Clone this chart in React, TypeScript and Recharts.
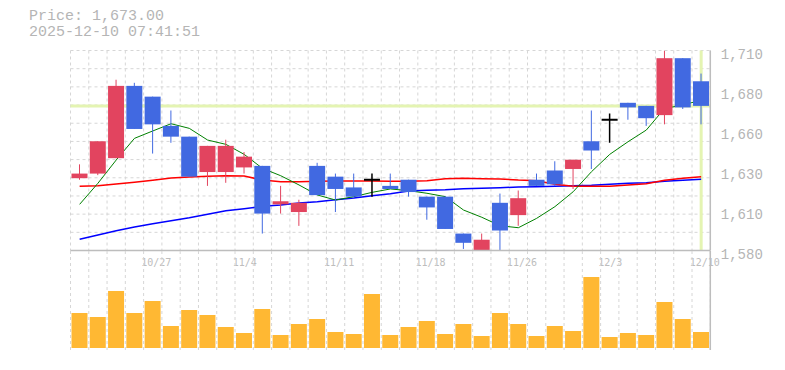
import React from 'react';
import {
    ComposedChart,
    Bar,
    Line,
    XAxis,
    YAxis,
    CartesianGrid,
    ReferenceLine,
} from 'recharts';

// --- Data ---
const dates = [
    '10/21', '10/22', '10/23', '10/24', '10/27', '10/28', '10/29', '10/30', '10/31',
    '11/4', '11/5', '11/6', '11/7', '11/10', '11/11', '11/12', '11/13', '11/14',
    '11/17', '11/18', '11/19', '11/20', '11/21', '11/25', '11/26', '11/27', '11/28',
    '12/1', '12/2', '12/3', '12/4', '12/5', '12/8', '12/9', '12/10',
];
const opens = [
    1626, 1629, 1639, 1686, 1679, 1660, 1653, 1630, 1630,
    1633, 1634, 1609, 1604, 1634, 1627, 1620, 1625, 1621,
    1625, 1614, 1614, 1590, 1579, 1610, 1602, 1625, 1631,
    1632, 1650, 1664, 1675, 1673, 1667, 1704, 1689,
];
const highs = [
    1635, 1650, 1690, 1688, 1679, 1670, 1653, 1647, 1651,
    1643, 1634, 1621, 1612, 1636, 1629, 1629, 1629, 1629,
    1625, 1614, 1614, 1590, 1590, 1616, 1618, 1629, 1637,
    1638, 1670, 1668, 1675, 1673, 1709, 1704, 1694,
];
const lows = [
    1625, 1628, 1639, 1658, 1642, 1649, 1627, 1621, 1623,
    1629, 1590, 1603, 1595, 1615, 1604, 1614, 1614, 1619,
    1614, 1599, 1593, 1580, 1579, 1579, 1595, 1621, 1621,
    1619, 1632, 1649, 1664, 1660, 1661, 1671, 1661,
];
const closes = [
    1629, 1650, 1686, 1658, 1661, 1653, 1627, 1647, 1647,
    1640, 1603, 1611, 1610, 1615, 1619, 1614, 1625, 1619,
    1617, 1607, 1593, 1584, 1586, 1592, 1613, 1621, 1622,
    1638, 1644, 1664, 1672, 1665, 1704, 1672, 1673,
];
const volumes = [
    10500, 9300, 17100, 10500, 14100, 6600, 11400, 9900, 6300,
    4500, 11700, 3900, 7200, 8700, 4800, 4200, 16200, 3900,
    6300, 8100, 4200, 7200, 3600, 10500, 7200, 3600, 6600,
    5100, 21300, 3300, 4500, 3900, 13800, 8700, 4800,
];
const ma5 = [
    1609.0, 1622.7, 1637.8, 1651.9, 1656.7, 1661.4, 1658.4, 1650.8, 1648.0,
    1641.5, 1632.4, 1627.6, 1621.6, 1615.1, 1611.8, 1614.0, 1616.8, 1619.0,
    1617.9, 1616.2, 1614.0, 1605.3, 1600.6, 1595.1, 1593.8, 1599.9, 1607.5,
    1617.2, 1630.2, 1641.5, 1649.7, 1657.3, 1671.4, 1673.5, 1676.8,
];
const ma25 = [
    1620.7, 1621.1, 1622.2, 1623.3, 1624.6, 1626.1, 1626.8, 1627.2, 1627.6,
    1627.4, 1624.8, 1623.7, 1623.7, 1624.0, 1624.2, 1624.2, 1624.2, 1624.0,
    1624.0, 1624.4, 1625.7, 1625.9, 1625.7, 1625.5, 1624.8, 1624.4, 1622.0,
    1620.7, 1620.7, 1620.7, 1621.6, 1622.4, 1624.6, 1625.9, 1627.0,
];
const ma75 = [
    1586.3, 1589.1, 1591.9, 1594.3, 1596.4, 1598.4, 1600.3, 1602.5, 1604.9,
    1606.2, 1607.7, 1608.6, 1609.9, 1610.7, 1612.0, 1613.1, 1614.6, 1615.9,
    1617.7, 1618.1, 1618.5, 1619.2, 1619.4, 1619.8, 1620.3, 1620.5, 1620.7,
    1621.1, 1621.4, 1622.0, 1622.7, 1623.1, 1624.0, 1624.6, 1625.3,
];
const dateTicks = ['10/27', '11/4', '11/11', '11/18', '11/26', '12/3', '12/10'];
const priceTicks = [1579, 1605, 1631, 1657, 1683, 1709];
const lastPrice = 1673;
const stamp = '2025-12-10 07:41:51';

const rows = dates.map((date, i) => ({
    date,
    open: opens[i],
    high: highs[i],
    low: lows[i],
    close: closes[i],
    range: [lows[i], highs[i]],
    volume: volumes[i],
    ma5: ma5[i],
    ma25: ma25[i],
    ma75: ma75[i],
}));

// --- Theme ---
const RED = '#e2445f';
const BLUE = '#4169e1';
const AXIS = '#bdbdbd';
const GRID = '#d6d6d6';
const HILITE = '#e4f4b2';
const TEXT = '#b5b5b5';

const W = 785;
const PLOT_LEFT = 70.5;
const AXIS_W = 74.7;
const GRID_ROWS = 11; // square grid: 11 rows over the price panel

// grid lines sit on the session boundaries, not on the date ticks
const sessionLines = ({ offset }: any) =>
    dates.map((_, i) => offset.left + (i * offset.width) / dates.length).concat(offset.left + offset.width);
const priceRows = ({ offset }: any) => {
    const out: number[] = [];
    for (let i = 0; i <= GRID_ROWS; i++) out.push(offset.top + (i * offset.height) / GRID_ROWS);
    return out;
};

function Candle(props: any) {
    const { x, y, width, height, payload } = props;
    const { open, close, high, low } = payload;
    const k = height / (high - low || 1);
    const cx = x + width / 2;
    const top = y + (high - Math.max(open, close)) * k;
    const bottom = y + (high - Math.min(open, close)) * k;

    if (open === close) {
        return (
            <g stroke="#000">
                <line x1={cx} x2={cx} y1={y} y2={y + height} strokeWidth={1.5} />
                <line x1={x} x2={x + width} y1={top} y2={top} strokeWidth={2} />
            </g>
        );
    }
    const color = close > open ? RED : BLUE;
    return (
        <g>
            <line x1={cx} x2={cx} y1={y} y2={y + height} stroke={color} strokeWidth={1} />
            <rect x={x} y={top} width={width} height={Math.max(1, bottom - top)} fill={color} />
        </g>
    );
}

function PriceTick({ x, y, payload }: any) {
    const label = (Math.round(payload.value / 10) * 10).toLocaleString('en-US');
    return (
        <text x={x + 10.5} y={y} dy={8} fill={TEXT} fontSize={14} fontFamily="'Liberation Mono', monospace">
            {label}
        </text>
    );
}

function DateTick({ x, y, payload }: any) {
    return (
        <text x={x - 11.5} y={y} dy={15.5} fill="#bdbdbd" fontSize={10} fontFamily="'DejaVu Sans Mono', monospace">
            {payload.value}
        </text>
    );
}

export default function App() {
    return (
        <div style={{ position: 'fixed', left: 0, top: 0, width: W, height: 370, background: '#fff', overflow: 'hidden' }}>
            <div
                style={{
                    position: 'absolute',
                    left: 29,
                    top: 9,
                    fontFamily: "'Liberation Mono', monospace",
                    fontSize: 15,
                    lineHeight: '16px',
                    color: TEXT,
                    whiteSpace: 'pre',
                }}
            >
                {`Price: ${lastPrice.toLocaleString('en-US', { minimumFractionDigits: 2 })}`}
                <br />
                {stamp}
            </div>

            {/* price panel */}
            <div style={{ position: 'absolute', left: 0, top: 0 }}>
                <ComposedChart width={W} height={271} data={rows} margin={{ top: 50.5, right: 0, bottom: 0, left: PLOT_LEFT }}>
                    <CartesianGrid
                        stroke={GRID}
                        strokeDasharray="3 3"
                        verticalCoordinatesGenerator={sessionLines}
                        horizontalCoordinatesGenerator={priceRows}
                    />
                    <XAxis
                        dataKey="date"
                        ticks={dateTicks}
                        interval={0}
                        height={20.5}
                        tickSize={0}
                        tickMargin={0}
                        tickLine={false}
                        axisLine={{ stroke: AXIS, strokeWidth: 1.5 }}
                        tick={<DateTick />}
                    />
                    <YAxis
                        orientation="right"
                        width={AXIS_W}
                        domain={[1579, 1709]}
                        ticks={priceTicks}
                        allowDataOverflow
                        interval={0}
                        tickSize={0}
                        tickMargin={0}
                        tickLine={false}
                        axisLine={{ stroke: AXIS, strokeWidth: 1.5 }}
                        tick={<PriceTick />}
                    />
                    <ReferenceLine y={lastPrice} stroke={HILITE} strokeWidth={3} zIndex={50} />
                    <ReferenceLine x={dates[dates.length - 1]} stroke={HILITE} strokeWidth={3} zIndex={50} />
                    <Line dataKey="ma75" stroke="#0000ff" strokeWidth={1.5} dot={false} isAnimationActive={false} zIndex={100} />
                    <Line dataKey="ma25" stroke="#ff0000" strokeWidth={1.5} dot={false} isAnimationActive={false} zIndex={100} />
                    <Line dataKey="ma5" stroke="#008000" strokeWidth={1} dot={false} isAnimationActive={false} zIndex={100} />
                    <Bar dataKey="range" barSize={16} shape={<Candle />} isAnimationActive={false} zIndex={300} />
                </ComposedChart>
            </div>

            {/* volume panel */}
            <div style={{ position: 'absolute', left: 0, top: 0 }}>
                <ComposedChart width={W} height={370} data={rows} margin={{ top: 251, right: 0, bottom: 20, left: PLOT_LEFT }}>
                    <CartesianGrid
                        horizontal={false}
                        stroke={GRID}
                        strokeDasharray="3 3"
                        verticalCoordinatesGenerator={sessionLines}
                    />
                    <XAxis dataKey="date" height={0} tick={false} tickLine={false} axisLine={{ stroke: AXIS, strokeWidth: 1.5 }} />
                    <YAxis
                        orientation="right"
                        width={AXIS_W}
                        domain={[-600, 29100]}
                        allowDataOverflow
                        tick={false}
                        tickLine={false}
                        axisLine={{ stroke: AXIS, strokeWidth: 1.5 }}
                    />
                    <Bar dataKey="volume" fill="#ffb833" barSize={16} isAnimationActive={false} />
                </ComposedChart>
            </div>
        </div>
    );
}
